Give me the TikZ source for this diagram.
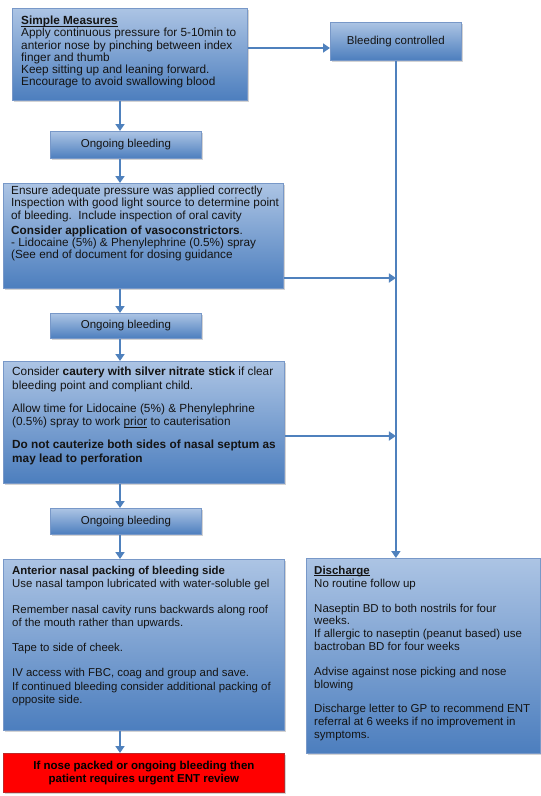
\documentclass[tikz,border=0pt]{standalone}
\usepackage{fontspec}
\setmainfont{Liberation Sans}
\usetikzlibrary{shadows,arrows.meta,calc}
\definecolor{bxtop}{RGB}{172,196,228}
\definecolor{bxbot}{RGB}{76,126,190}
\definecolor{bxline}{RGB}{120,152,200}
\definecolor{arrcol}{RGB}{79,129,189}
\definecolor{txt}{RGB}{20,20,20}
\definecolor{redline}{RGB}{190,40,40}
\newcommand\myul[1]{\setbox0\hbox{#1}\rlap{\rule[-1.6pt]{\wd0}{0.8pt}}\box0\relax}
\begin{document}
\begin{tikzpicture}[x=1pt,y=-1pt,
  bluebox/.style={draw=bxline, line width=0.8pt, top color=bxtop, bottom color=bxbot,
    drop shadow={shadow xshift=1.6pt,shadow yshift=-1.8pt,opacity=0.35},
    inner sep=0pt, anchor=north west},
  redbox/.style={draw=redline, line width=0.8pt, fill=red,
    drop shadow={shadow xshift=1.6pt,shadow yshift=-1.8pt,opacity=0.35},
    inner sep=0pt, anchor=north west},
  txtnode/.style={anchor=north west, inner sep=0pt, align=left, text=txt},
  ctxt/.style={anchor=center, inner sep=0pt, align=center, text=txt,
    font=\fontsize{11.5}{12.5}\selectfont},
  flow/.style={draw=arrcol, line width=2pt, -{Triangle[length=7pt,width=9pt]}},
]
\useasboundingbox (0,0) rectangle (541,796);

% boxes
\node[bluebox, minimum width=235pt, minimum height=92pt] (b1) at (12,8) {};
\node[bluebox, minimum width=131pt, minimum height=38pt] (bc) at (330,22) {};
\node[bluebox, minimum width=151pt, minimum height=27pt] (ob1) at (50,131) {};
\node[bluebox, minimum width=280pt, minimum height=105pt] (b2) at (3,183) {};
\node[bluebox, minimum width=151pt, minimum height=25pt] (ob2) at (50,313) {};
\node[bluebox, minimum width=281pt, minimum height=122pt] (b3) at (3,361) {};
\node[bluebox, minimum width=151pt, minimum height=26pt] (ob3) at (50,508) {};
\node[bluebox, minimum width=281pt, minimum height=171pt] (b4) at (3,559) {};
\node[redbox, minimum width=281pt, minimum height=39pt] (rb) at (3,753) {};
\node[bluebox, minimum width=234pt, minimum height=195pt] (dis) at (306,558) {};

% texts
\node[txtnode, font=\fontsize{11.8}{12.2}\selectfont] (t1) at (21,16) {%
\myul{\textbf{Simple Measures}}\\
Apply continuous pressure for 5-10min to\\
anterior nose by pinching between index\\
finger and thumb\\
Keep sitting up and leaning forward.\\
Encourage to avoid swallowing blood};

\node[ctxt] (tbc) at (bc.center) {Bleeding controlled};
\node[ctxt] (tob1) at (ob1.center) {Ongoing bleeding};
\node[ctxt] (tob2) at (ob2.center) {Ongoing bleeding};
\node[ctxt] (tob3) at (ob3.center) {Ongoing bleeding};

\node[txtnode, font=\fontsize{11.75}{12.2}\selectfont] (t2) at (11,186) {%
Ensure adequate pressure was applied correctly\\
Inspection with good light source to determine point\\
of bleeding.\ \ Include inspection of oral cavity\\[2.8pt]
\textbf{Consider application of vasoconstrictors}.\\
- Lidocaine (5\%) \& Phenylephrine (0.5\%) spray\\
(See end of document for dosing guidance};

\node[txtnode, font=\fontsize{11.8}{13.5}\selectfont] (t3) at (12,367) {%
Consider \textbf{cautery with silver nitrate stick} if clear\\
bleeding point and compliant child.\\[9.5pt]
Allow time for Lidocaine (5\%) \& Phenylephrine\\
(0.5\%) spray to work \myul{prior} to cauterisation\\[9.5pt]
\textbf{Do not cauterize both sides of nasal septum as}\\
\textbf{may lead to perforation}};

\node[txtnode, font=\fontsize{11.4}{13.3}\selectfont] (t4) at (12,566) {%
\textbf{Anterior nasal packing of bleeding side}\\
Use nasal tampon lubricated with water-soluble gel\\[12pt]
Remember nasal cavity runs backwards along roof\\
of the mouth rather than upwards.\\[12pt]
Tape to side of cheek.\\[12pt]
IV access with FBC, coag and group and save.\\
If continued bleeding consider additional packing of\\
opposite side.};

\node[ctxt, font=\bfseries\fontsize{11.5}{12.5}\selectfont, text=black] (trb) at (rb.center) {%
If nose packed or ongoing bleeding then\\
patient requires urgent ENT review};

\node[txtnode, font=\fontsize{11.5}{12.8}\selectfont] (td) at (314,566) {%
\myul{\textbf{Discharge}}\\
No routine follow up\\[12pt]
Naseptin BD to both nostrils for four\\
weeks.\\
If allergic to naseptin (peanut based) use\\
bactroban BD for four weeks\\[12pt]
Advise against nose picking and nose\\
blowing\\[12pt]
Discharge letter to GP to recommend ENT\\
referral at 6 weeks if no improvement in\\
symptoms.};

% connector helper coordinates
\coordinate (ax) at (120,0);
\coordinate (y1) at (0,48);
\coordinate (y2) at (0,278);
\coordinate (y3) at (0,436);

% connectors
\draw[flow] (ax |- b1.south) -- (ax |- ob1.north);
\draw[flow] (ax |- ob1.south) -- (ax |- b2.north);
\draw[flow] (ax |- b2.south) -- (ax |- ob2.north);
\draw[flow] (ax |- ob2.south) -- (ax |- b3.north);
\draw[flow] (ax |- b3.south) -- (ax |- ob3.north);
\draw[flow] (ax |- ob3.south) -- (ax |- b4.north);
\draw[flow] (ax |- b4.south) -- (ax |- rb.north);
\draw[flow] (b1.east |- y1) -- (bc.west |- y1);
\draw[flow] (bc.south) -- (bc.south |- dis.north);
\draw[flow] (b2.east |- y2) -- (bc.south |- y2);
\draw[flow] (b3.east |- y3) -- (bc.south |- y3);
\end{tikzpicture}
\end{document}
